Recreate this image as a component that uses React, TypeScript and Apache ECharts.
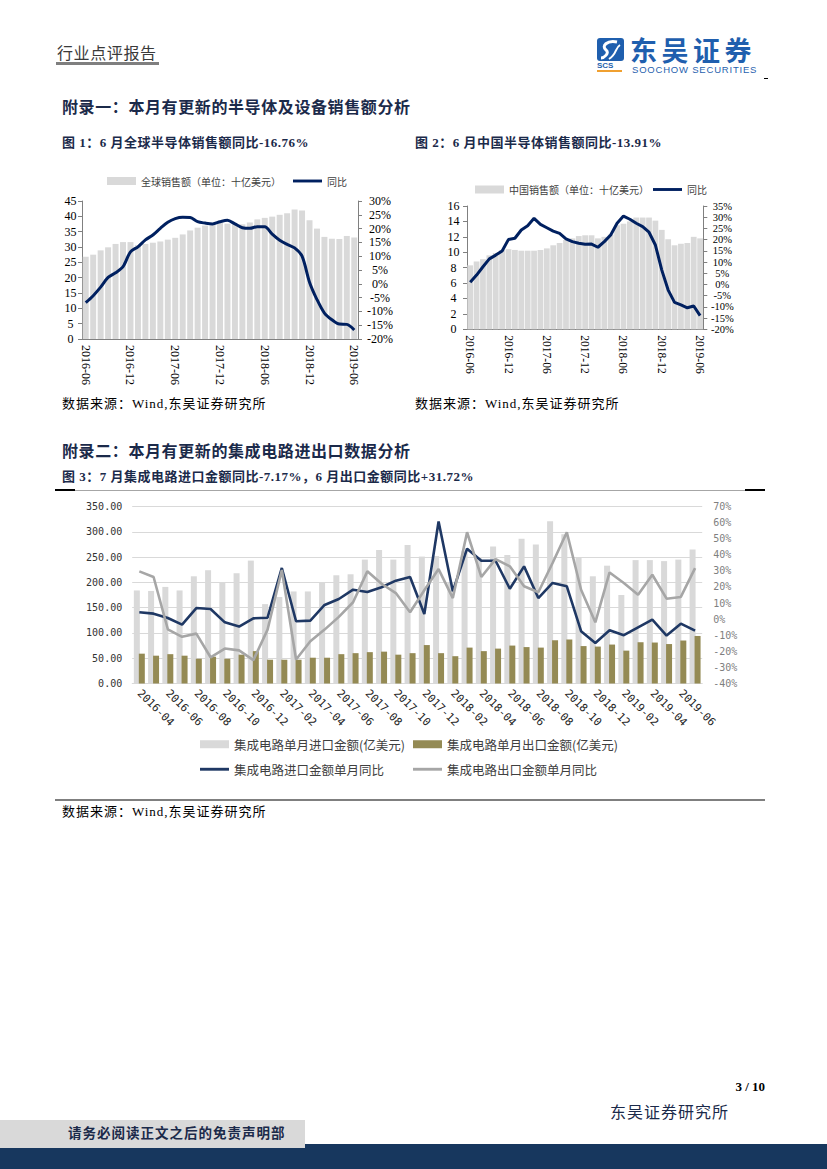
import React, { useEffect, useRef } from "react";
import * as echarts from "echarts";

// ---------- categories ----------
function monthRange(y: number, m: number, count: number): string[] {
  const out: string[] = [];
  for (let k = 0; k < count; k++) {
    const mm = ((m - 1 + k) % 12) + 1;
    const yy = y + Math.floor((m - 1 + k) / 12);
    out.push(`${yy}-${mm < 10 ? "0" + mm : mm}`);
  }
  return out;
}
const months1 = monthRange(2016, 6, 37); // 2016-06 .. 2019-06
const months3 = monthRange(2016, 4, 40); // 2016-04 .. 2019-07

// ---------- figure 1: global semiconductor sales ----------
const globalSales = [26.8, 27.5, 28.9, 29.9, 31.0, 31.6, 31.6, 30.6, 31.0, 31.4, 31.8, 32.4, 33.0, 34.1, 35.4, 36.3, 37.0, 37.6, 38.0, 37.6, 37.4, 37.4, 38.0, 39.0, 39.5, 39.9, 40.5, 41.0, 42.2, 41.9, 38.7, 36.0, 33.3, 32.7, 32.6, 33.6, 33.1];
const globalYoy = [-6.85, -4.3, -1.2, 2.3, 4.0, 6.2, 11.6, 13.4, 15.9, 17.7, 20.1, 22.3, 23.6, 24.1, 24.0, 22.5, 22.0, 21.7, 22.5, 23.0, 21.7, 20.3, 20.1, 20.7, 20.7, 18.0, 15.8, 14.3, 13.0, 10.0, 0.6, -5.7, -10.6, -13.0, -14.6, -14.7, -16.76];
const leftTicks1 = { min: 0, max: 45, step: 5 };
const rightTicks1 = { min: -20, max: 30, step: 5 };

// ---------- figure 2: China semiconductor sales ----------
const chinaSales = [8.3, 8.8, 9.1, 9.6, 9.9, 10.3, 10.4, 10.3, 10.2, 10.2, 10.2, 10.3, 10.5, 10.9, 11.2, 11.6, 11.8, 12.1, 12.2, 12.2, 11.8, 12.0, 12.3, 13.5, 13.7, 14.0, 14.5, 14.5, 14.5, 14.1, 12.9, 11.7, 10.9, 11.1, 11.2, 12.0, 11.8];
const chinaYoy = [1.0, 4.2, 7.9, 11.4, 13.1, 14.9, 20.1, 20.6, 24.3, 26.2, 29.5, 26.8, 25.3, 23.8, 22.8, 20.3, 19.1, 18.4, 17.9, 18.0, 16.6, 19.1, 22.1, 27.3, 30.5, 29.1, 27.3, 25.8, 23.3, 17.6, 6.4, -2.5, -8.0, -9.1, -10.4, -9.6, -13.91];
const leftTicks2 = { min: 0, max: 16, step: 2 };
const rightTicks2 = { min: -20, max: 35, step: 5 };

// ---------- figure 3: IC imports / exports ----------
const icImport = [184, 183, 191, 184, 212, 224, 200, 218, 243, 157, 171, 182, 182, 199, 214, 216, 245, 264, 245, 274, 251, 252, 200, 262, 248, 271, 254, 286, 275, 321, 295, 250, 212, 233, 175, 244, 244, 242, 245, 265];
const icExport = [59, 55, 58, 55, 49, 53, 49, 57, 64, 47, 47, 47, 51, 51, 58, 60, 62, 63, 57, 60, 76, 60, 54, 71, 64, 69, 75, 72, 71, 85.5, 87, 74, 73, 77, 65, 81.6, 81, 78, 85, 94];
const icImportYoy = [4.3, 3.4, 0.7, -3.4, 6.9, 6.3, -2.0, -4.6, 0.5, 0.9, 31.8, -1.3, -0.9, 8.8, 12.5, 18.3, 16.9, 19.8, 23.9, 26.2, 3.2, 60.7, 17.3, 43.8, 36.3, 36.3, 18.9, 32.8, 13.1, 22.5, 20.4, -7.5, -14.8, -6.9, -10.0, -5.1, -0.3, -10.2, -2.8, -7.17];
const icExportYoy = [29.7, 26.2, -6.3, -11.0, -9.0, -23.7, -18.3, -19.4, -25.5, -6.5, 30.5, -25.1, -13.7, -6.5, 1.4, 10.5, 29.7, 22.0, 16.2, 4.3, 18.0, 31.1, 13.1, 54.0, 26.2, 37.3, 32.8, 20.4, 16.7, 34.9, 54.0, 18.3, -2.0, 29.0, 22.5, 15.2, 27.6, 12.7, 13.8, 31.72];
const leftTicks3 = { min: 0, max: 350, step: 50 };
const rightTicks3 = { min: -40, max: 70, step: 10 };

const names1 = ["全球销售额（单位：十亿美元）", "同比"];
const names2 = ["中国销售额（单位：十亿美元）", "同比"];
const names3 = ["集成电路单月进口金额(亿美元)", "集成电路单月出口金额(亿美元)", "集成电路进口金额单月同比", "集成电路出口金额单月同比"];

const LINE_ICON = "path://M0,0H30V3H0Z";
const SERIF = "Liberation Serif";
const CJK = "Noto Sans CJK SC";
const MONO = "DejaVu Sans Mono";
const axisGray = "#808080";

function salesOption(
  cats: string[], bars: number[], yoy: number[], names: string[],
  lt: { min: number; max: number; step: number }, rt: { min: number; max: number; step: number },
  lay: any
) {
  return {
    animation: false,
    legend: {
      left: lay.legendLeft, top: lay.legendTop, padding: 0, itemWidth: 29, itemHeight: 8, itemGap: lay.itemGap,
      textStyle: { fontSize: 10, fontFamily: CJK, color: "#404040" },
      data: [{ name: names[0], icon: "rect" }, { name: names[1], icon: LINE_ICON }],
    },
    grid: { left: lay.grid[0], right: lay.grid[1], top: lay.grid[2], bottom: lay.grid[3], outerBoundsMode: "none" },
    xAxis: {
      type: "category", data: cats, boundaryGap: true,
      axisLine: { lineStyle: { color: axisGray } },
      axisTick: { interval: 5, length: 4, lineStyle: { color: axisGray } },
      axisLabel: { interval: 5, rotate: -90, margin: 6, fontSize: lay.xFont, color: "#000", fontFamily: SERIF },
    },
    yAxis: [
      {
        type: "value", min: lt.min, max: lt.max, interval: lt.step,
        axisLine: { show: true, lineStyle: { color: axisGray } },
        axisTick: { show: true, length: 4, lineStyle: { color: axisGray } },
        splitLine: { show: false },
        axisLabel: {
          align: "center", margin: lay.lm, fontSize: 12, lineHeight: lay.lh, color: "#000", fontFamily: SERIF,
          showMinLabel: true, showMaxLabel: true, hideOverlap: false,
        },
      },
      {
        type: "value", min: rt.min, max: rt.max, interval: rt.step, position: "right",
        axisLine: { show: true, lineStyle: { color: axisGray } },
        axisTick: { show: true, length: 4, lineStyle: { color: axisGray } },
        splitLine: { show: false },
        axisLabel: {
          align: "center", margin: lay.rm, fontSize: lay.rFont, lineHeight: lay.lh, color: "#000", fontFamily: SERIF,
          formatter: "{value}%", showMinLabel: true, showMaxLabel: true, hideOverlap: false,
        },
      },
    ],
    series: [
      { name: names[0], type: "bar", data: bars, yAxisIndex: 0, barCategoryGap: lay.gap, itemStyle: { color: "#d9d9d9" } },
      {
        name: names[1], type: "line", data: yoy, yAxisIndex: 1, symbol: "none", smooth: lay.smooth,
        lineStyle: { color: "#002060", width: 3 }, itemStyle: { color: "#002060" },
      },
    ],
  };
}

const option1 = salesOption(months1, globalSales, globalYoy, names1, leftTicks1, rightTicks1, {
  legendLeft: 52, legendTop: 11, itemGap: 12, grid: [27, 47, 36, 51], xFont: 12, lm: 11.5, rm: 22, rFont: 12, lh: 12,
  gap: "20%", smooth: 0.3,
});
const option2 = salesOption(months1, chinaSales, chinaYoy, names2, leftTicks2, rightTicks2, {
  legendLeft: 65, legendTop: 19.5, itemGap: 4, grid: [57, 66.7, 41, 60.7], xFont: 11.5, lm: 13.5, rm: 19, rFont: 10.5, lh: 10,
  gap: "10%", smooth: false,
});

const legend3 = (name: string, left: number, top: number, icon: string) => ({
  left, top, padding: 0, itemWidth: 29, itemHeight: 8,
  textStyle: { fontSize: 12.5, fontFamily: CJK, color: "#404040" },
  data: [{ name, icon }],
});

const option3 = {
  animation: false,
  legend: [
    legend3(names3[0], 145, 243, "rect"),
    legend3(names3[1], 358, 243, "rect"),
    legend3(names3[2], 145, 268, LINE_ICON),
    legend3(names3[3], 358, 268, LINE_ICON),
  ],
  grid: { left: 77.2, right: 62.8, top: 11.5, bottom: 111.5, outerBoundsMode: "none" },
  xAxis: {
    type: "category", data: months3, boundaryGap: true,
    axisLine: { lineStyle: { color: "#d9d9d9" } },
    axisTick: { show: false },
    axisLabel: { interval: 1, rotate: -45, margin: 8, fontSize: 11, color: "#262626", fontFamily: MONO },
  },
  yAxis: [
    {
      type: "value", min: leftTicks3.min, max: leftTicks3.max, interval: leftTicks3.step,
      axisLine: { show: false }, axisTick: { show: false },
      splitLine: { show: true, lineStyle: { color: "#d9d9d9", width: 1 } },
      axisLabel: { margin: 10, fontSize: 10, color: "#333333", fontFamily: MONO, formatter: (v: number) => v.toFixed(2) },
    },
    {
      type: "value", min: rightTicks3.min, max: rightTicks3.max, interval: rightTicks3.step, position: "right",
      axisLine: { show: false }, axisTick: { show: false }, splitLine: { show: false },
      axisLabel: { margin: 11, fontSize: 10, color: "#7f7f7f", fontFamily: MONO, formatter: "{value}%" },
    },
  ],
  series: [
    { name: names3[0], type: "bar", data: icImport, yAxisIndex: 0, barWidth: 6, barGap: "-17%", itemStyle: { color: "#d9d9d9" } },
    { name: names3[1], type: "bar", data: icExport, yAxisIndex: 0, barWidth: 6, barGap: "-17%", itemStyle: { color: "#948a54" } },
    {
      name: names3[2], type: "line", data: icImportYoy, yAxisIndex: 1, symbol: "none",
      lineStyle: { color: "#1f3864", width: 2.6 }, itemStyle: { color: "#1f3864" },
    },
    {
      name: names3[3], type: "line", data: icExportYoy, yAxisIndex: 1, symbol: "none",
      lineStyle: { color: "#a6a6a6", width: 2.6 }, itemStyle: { color: "#a6a6a6" },
    },
  ],
};

function Chart({ option, left, top, width, height }: any) {
  const ref = useRef<HTMLDivElement>(null);
  useEffect(() => {
    const chart = echarts.init(ref.current as HTMLDivElement, undefined, { renderer: "svg" });
    chart.setOption(option);
    return () => chart.dispose();
  }, []);
  return <div ref={ref} style={{ position: "absolute", left, top, width, height }} />;
}

const HEAD = "#1b2a4a";
const FONT_MIX = `"${SERIF}", "${CJK}", serif`;

function Txt({ x, y, size, children, bold, color, family, spacing, right, lh }: any) {
  const lineH = lh || size * 1.4;
  const style: any = {
    position: "absolute", top: y - lineH / 2, fontSize: size, lineHeight: `${lineH}px`, height: lineH,
    fontWeight: bold ? 700 : 400, color: color || "#000", fontFamily: family || FONT_MIX,
    letterSpacing: spacing || 0, whiteSpace: "nowrap",
  };
  if (right !== undefined) style.right = right; else style.left = x;
  return <div style={style}>{children}</div>;
}

function Box({ x, y, w, h, c }: any) {
  return <div style={{ position: "absolute", left: x, top: y, width: w, height: h, background: c }} />;
}

export default function App() {
  return (
    <div style={{ position: "absolute", left: 0, top: 0, width: 827, height: 1169, background: "#fff", overflow: "hidden" }}>
      {/* header */}
      <Txt x={57} y={52} size={16} color="#3a3a3a" family={CJK} spacing={0.6}>行业点评报告</Txt>
      <Box x={56} y={62} w={103} h={2.5} c="#7f7f7f" />
      <svg style={{ position: "absolute", left: 595, top: 36 }} width={32} height={40}>
        <rect x={2} y={2} width={27} height={23} rx={3} fill="#1f5fae" />
        <path d="M22,6 C12,4 6,10 11,14 C15,17 9,22 6,22" stroke="#fff" strokeWidth={3} fill="none" />
        <path d="M25,9 C20,12 22,18 14,23" stroke="#fff" strokeWidth={2} fill="none" />
        <text x={2} y={32} fontSize={8} fontWeight={900} fill="#1f5fae" fontFamily="Liberation Sans">SCS</text>
        <rect x={2} y={34} width={25} height={2} fill="#f0a030" />
      </svg>
      <Txt x={630} y={49} size={27} lh={27} bold color="#1f5fae" family={CJK} spacing={4.5}>东吴证券</Txt>
      <Txt x={632} y={70} size={9.5} lh={10} color="#1f5fae" family="Liberation Sans" spacing={0.8}>SOOCHOW SECURITIES</Txt>
      <Box x={764} y={77.5} w={4} h={1.5} c="#000" />

      {/* section 1 */}
      <Txt x={62} y={108} size={16} bold color={HEAD} spacing={0.6}>附录一：本月有更新的半导体及设备销售额分析</Txt>
      <Txt x={62} y={143} size={13} bold color={HEAD} spacing={0.5}>图 1：6 月全球半导体销售额同比-16.76%</Txt>
      <Txt x={415} y={143} size={13} bold color={HEAD} spacing={0.5}>图 2：6 月中国半导体销售额同比-13.91%</Txt>
      <Chart option={option1} left={55} top={165} width={350} height={225} />
      <Chart option={option2} left={410} top={165} width={360} height={225} />
      <Txt x={62} y={404} size={13} spacing={1}>数据来源：Wind,东吴证券研究所</Txt>
      <Txt x={415} y={404} size={13} spacing={1}>数据来源：Wind,东吴证券研究所</Txt>

      {/* section 2 */}
      <Txt x={62} y={452} size={16} bold color={HEAD} spacing={0.6}>附录二：本月有更新的集成电路进出口数据分析</Txt>
      <Txt x={62} y={477} size={13} bold color={HEAD} spacing={0.5}>图 3：7 月集成电路进口金额同比-7.17%，6 月出口金额同比+31.72%</Txt>
      <Box x={55} y={489.5} w={710} h={1} c="#a6a6a6" />
      <Box x={55} y={489} w={20} h={2} c="#000" />
      <Box x={745} y={489} w={20} h={2} c="#000" />
      <Chart option={option3} left={55} top={495} width={710} height={300} />
      <Box x={55} y={799} w={710} h={2} c="#7f7f7f" />
      <Txt x={62} y={812} size={13} spacing={1}>数据来源：Wind,东吴证券研究所</Txt>

      {/* footer */}
      <Txt right={62} y={1087} size={13} bold>3 / 10</Txt>
      <Txt x={610} y={1113} size={16} color={HEAD} spacing={1}>东吴证券研究所</Txt>
      <Box x={0} y={1144} w={827} h={25} c="#17375e" />
      <Box x={0} y={1120} w={305} h={28} c="#d9d9d9" />
      <Txt x={68} y={1134} size={13.5} bold color={HEAD} spacing={1}>请务必阅读正文之后的免责声明部</Txt>
    </div>
  );
}
